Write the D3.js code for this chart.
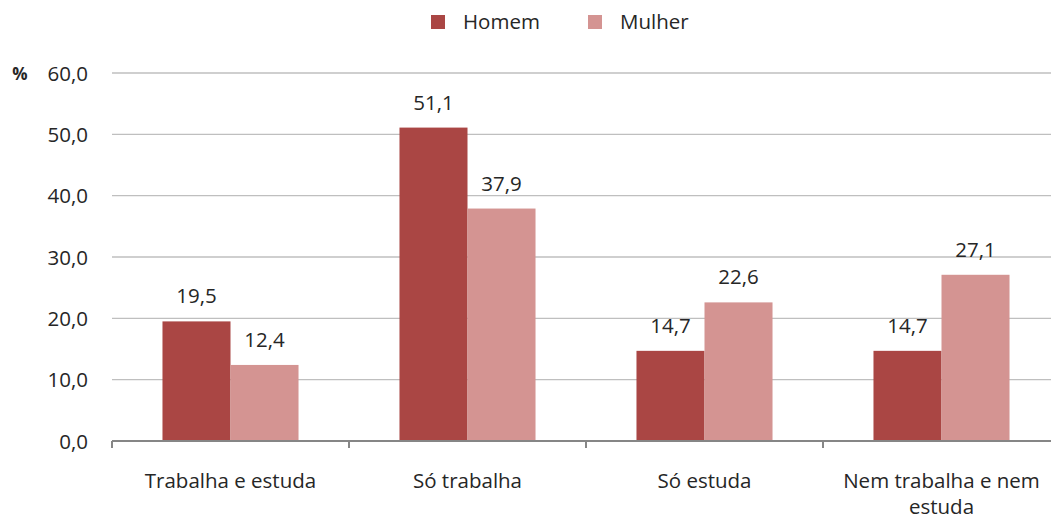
<!DOCTYPE html>
<html>
<head>
<meta charset="utf-8">
<script src="https://cdn.jsdelivr.net/npm/d3@7"></script>
<style>
  body { margin: 0; background: #fff; }
  svg { display: block; font-family: "Open Sans", sans-serif; }
</style>
</head>
<body>
<svg id="chart"></svg>
<script>
const categories = ['Trabalha e estuda', 'Só trabalha', 'Só estuda', 'Nem trabalha e nem estuda'];
const seriesNames = ['Homem', 'Mulher'];
const homem = [19.5, 51.1, 14.7, 14.7];
const mulher = [12.4, 37.9, 22.6, 27.1];
const yTicks = [0, 10, 20, 30, 40, 50, 60];

const colors = { Homem: '#aa4644', Mulher: '#d49492' };
const textColor = '#262626';
const fontSize = 20.5;

const width = 1051;
const height = 520;

const svg = d3.select('#chart').attr('width', width).attr('height', height);

const rows = categories.map((cat, i) => ({ cat, Homem: homem[i], Mulher: mulher[i] }));

// plot runs past the right edge of the picture, like the original crop
const x = d3.scaleBand()
  .domain(categories)
  .range([112, 1060])
  .paddingInner(0.426)
  .paddingOuter(0.213);

const xSub = d3.scaleBand()
  .domain(seriesNames)
  .range([0, x.bandwidth()]);

const y = d3.scaleLinear().domain([0, 60]).range([441, 73]);

// gridlines
svg.append('g')
  .selectAll('line')
  .data(yTicks.filter(t => t > 0))
  .join('line')
  .attr('x1', 112)
  .attr('x2', width)
  .attr('y1', d => y(d))
  .attr('y2', d => y(d))
  .attr('stroke', '#bfbfbf')
  .attr('stroke-width', 1.3);

// y labels
svg.append('g')
  .selectAll('text')
  .data(yTicks)
  .join('text')
  .attr('x', 88)
  .attr('y', d => y(d) + 7.5)
  .attr('text-anchor', 'end')
  .attr('font-size', fontSize)
  .attr('fill', textColor)
  .text(d => d3.format('.1f')(d).replace('.', ','));

svg.append('text')
  .attr('x', 20)
  .attr('y', y(60) + 7)
  .attr('text-anchor', 'middle')
  .attr('font-size', 17)
  .attr('font-weight', 'bold')
  .attr('fill', textColor)
  .text('%');

// bars
const groups = svg.append('g')
  .selectAll('g')
  .data(rows)
  .join('g')
  .attr('transform', d => `translate(${x(d.cat)},0)`);

groups.selectAll('rect')
  .data(d => seriesNames.map(key => ({ key, value: d[key] })))
  .join('rect')
  .attr('x', d => xSub(d.key))
  .attr('width', xSub.bandwidth())
  .attr('y', d => y(d.value))
  .attr('height', d => y(0) - y(d.value))
  .attr('fill', d => colors[d.key]);

groups.selectAll('text.val')
  .data(d => seriesNames.map(key => ({ key, value: d[key] })))
  .join('text')
  .attr('class', 'val')
  .attr('x', d => xSub(d.key) + xSub.bandwidth() / 2)
  .attr('y', d => y(d.value) - 18)
  .attr('text-anchor', 'middle')
  .attr('font-size', fontSize)
  .attr('fill', textColor)
  .text(d => d3.format('.1f')(d.value).replace('.', ','));

// x axis line and ticks at band edges
const axis = svg.append('g').attr('stroke', '#868686').attr('stroke-width', 2);
axis.append('line')
  .attr('x1', 112).attr('x2', width)
  .attr('y1', y(0)).attr('y2', y(0));
const step = x.step();
axis.selectAll('line.tick')
  .data(d3.range(categories.length + 1))
  .join('line')
  .attr('class', 'tick')
  .attr('x1', i => 112 + i * step)
  .attr('x2', i => 112 + i * step)
  .attr('y1', y(0))
  .attr('y2', y(0) + 7);

// category labels, wrapped
const catLabels = svg.append('g')
  .selectAll('text')
  .data(categories)
  .join('text')
  .attr('x', d => x(d) + x.bandwidth() / 2)
  .attr('y', 488)
  .attr('text-anchor', 'middle')
  .attr('font-size', fontSize)
  .attr('fill', textColor);

catLabels.each(function (d) {
  const el = d3.select(this);
  const cx = x(d) + x.bandwidth() / 2;
  const words = d.split(' ');
  let line = [];
  let tspan = el.append('tspan').attr('x', cx).attr('dy', 0);
  words.forEach(w => {
    line.push(w);
    tspan.text(line.join(' '));
    if (tspan.node().getComputedTextLength() > step * 0.9 && line.length > 1) {
      line.pop();
      tspan.text(line.join(' '));
      line = [w];
      tspan = el.append('tspan').attr('x', cx).attr('dy', 26).text(w);
    }
  });
});

// legend
const legend = svg.append('g');
const legendX = [431, 588];
seriesNames.forEach((name, i) => {
  legend.append('rect')
    .attr('x', legendX[i]).attr('y', 15)
    .attr('width', 14).attr('height', 14)
    .attr('fill', colors[name]);
  legend.append('text')
    .attr('x', legendX[i] + 32).attr('y', 29)
    .attr('font-size', fontSize)
    .attr('fill', textColor)
    .text(name);
});
</script>
</body>
</html>
